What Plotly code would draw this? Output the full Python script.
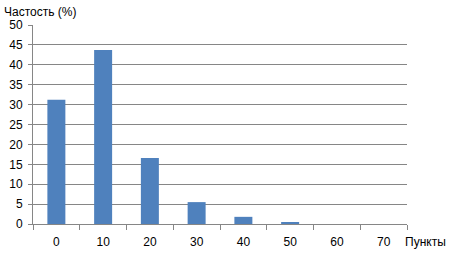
import plotly.graph_objects as go

categories = ["0", "10", "20", "30", "40", "50", "60", "70"]
values = [31.2, 43.7, 16.6, 5.5, 1.8, 0.5, 0.0, 0.0]
y_ticks = [0, 5, 10, 15, 20, 25, 30, 35, 40, 45, 50]

fig = go.Figure(go.Bar(x=categories, y=values, marker=dict(color="#4F81BD", line=dict(width=0)), width=0.385))

font = dict(family="Liberation Sans, Arial, sans-serif", size=12, color="#000000")
fig.update_layout(
    width=475, height=256,
    margin=dict(l=33, r=68, t=25, b=32),
    paper_bgcolor="white", plot_bgcolor="white",
    font=font, showlegend=False,
    bargap=0.615,
)
fig.update_xaxes(
    type="category", showline=True, linecolor="#868686", linewidth=1,
    ticks="outside", tickson="boundaries", ticklen=5, tickcolor="#868686",
    showgrid=False, tickfont=font, ticklabelstandoff=7, automargin=False,
)
fig.update_yaxes(
    range=[0, 50], tickvals=y_ticks, showline=True, linecolor="#868686", linewidth=1,
    ticks="outside", ticklen=4, tickcolor="#868686",
    showgrid=True, gridcolor="#868686", gridwidth=1, zeroline=False, tickfont=font,
    ticklabelstandoff=3, automargin=False,
)
fig.add_annotation(text="Частость (%)", xref="paper", yref="paper", x=0, y=1,
                   xshift=-31, yshift=13, xanchor="left", yanchor="middle", showarrow=False, font=font)
fig.add_annotation(text="Пункты", xref="paper", yref="paper", x=1, y=0,
                   xshift=-4, yshift=-18, xanchor="left", yanchor="middle", showarrow=False, font=font)

fig.write_html("out.html")
